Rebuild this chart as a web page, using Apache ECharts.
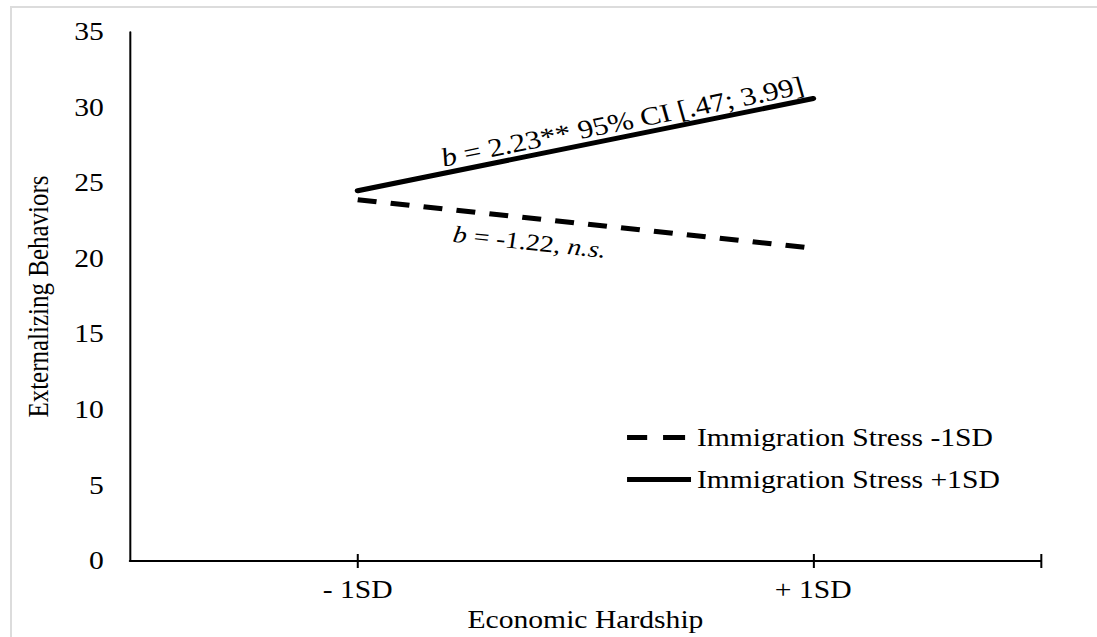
<!DOCTYPE html>
<html>
<head>
<meta charset="utf-8">
<script src="https://cdn.jsdelivr.net/npm/echarts@6/dist/echarts.min.js"></script>
<style>
  html, body { margin: 0; padding: 0; background: #fff; overflow: hidden; }
  #frame { position: absolute; left: 10px; top: 6px; width: 1090px; height: 640px;
           border-left: 2px solid #dcdcdc; border-top: 2px solid #dcdcdc; }
  /* The figure is laid out on a narrower canvas and widened, so the serif
     type comes out broad, as in the printed figure. */
  #chart { position: absolute; left: 0; top: 0; width: 926px; height: 637px;
           transform: scaleX(1.18467); transform-origin: 0 0; }
</style>
</head>
<body>
<div id="frame"></div>
<div id="chart"></div>
<script>
// Economic hardship levels on the x axis
const categories = ['- 1SD', '+ 1SD'];
// Simple slopes: externalizing behaviors at low / high immigration stress
const lowStress = [23.9, 20.7];
const highStress = [24.5, 30.6];
const seriesNames = ['Immigration Stress -1SD', 'Immigration Stress +1SD'];
// Slope annotations
const lowStressNote = '{i|b} = -1.22, {i|n.s.}';
const highStressNote = '{i|b} = 2.23** 95% CI [.47; 3.99]';
// Y axis ticks
const yMin = 0, yMax = 35, yStep = 5;

const FONT = "'Liberation Serif', 'Times New Roman', serif";
const INK = '#000';

const chart = echarts.init(document.getElementById('chart'), null, { renderer: 'svg' });

chart.setOption({
  animation: false,
  backgroundColor: 'transparent',
  textStyle: { fontFamily: FONT, color: INK },
  grid: { left: 109.7, right: 47.3, top: 32, bottom: 76, containLabel: false },
  legend: {
    orient: 'vertical',
    left: 529.3, top: 425,
    padding: 0,
    itemWidth: 54, itemHeight: 5, itemGap: 17,
    textStyle: { fontFamily: FONT, fontSize: 25, color: INK },
    data: [
      // two short dashes, with the icon box kept as wide as the solid one
      { name: seriesNames[0], icon: 'path://M0,0H17V5H0Z M30.4,0H49V5H30.4Z M54,2.5L54,2.5' },
      { name: seriesNames[1], icon: 'path://M0,0H54V5H0Z' }
    ]
  },
  xAxis: [
    {
      type: 'category',
      data: categories,
      boundaryGap: true,
      name: 'Economic Hardship',
      nameLocation: 'middle',
      nameGap: 46,
      nameTextStyle: { fontFamily: FONT, fontSize: 25, color: INK },
      axisLine: { lineStyle: { color: INK, width: 2 } },
      axisTick: { show: false },
      axisLabel: { fontFamily: FONT, fontSize: 25, color: INK, margin: 16 },
      splitLine: { show: false }
    },
    {
      // tick marks crossing the baseline at each category and at the right end
      type: 'value',
      min: 0, max: 4, interval: 1,
      position: 'bottom',
      offset: -7,
      axisLine: { show: false },
      axisLabel: { show: false },
      splitLine: { show: false },
      axisTick: { show: true, length: 14, customValues: [1, 3, 4], lineStyle: { color: INK, width: 1.7 } }
    }
  ],
  yAxis: {
    type: 'value',
    min: yMin, max: yMax, interval: yStep,
    name: 'Externalizing Behaviors',
    nameLocation: 'middle',
    nameGap: 65,
    nameTextStyle: { fontFamily: FONT, fontSize: 25, color: INK },
    axisLine: { show: true, lineStyle: { color: INK, width: 1.7 } },
    axisTick: { show: false },
    axisLabel: { fontFamily: FONT, fontSize: 25, color: INK, margin: 22 },
    splitLine: { show: false }
  },
  series: [
    {
      name: seriesNames[0],
      type: 'line',
      data: lowStress,
      symbol: 'none',
      lineStyle: { color: INK, width: 5, type: [16, 12], cap: 'butt' },
      itemStyle: { color: INK }
    },
    {
      name: seriesNames[1],
      type: 'line',
      data: highStress,
      symbol: 'none',
      lineStyle: { color: INK, width: 5, type: 'solid', cap: 'round' },
      itemStyle: { color: INK }
    }
  ]
});

// Place a slope note along its line, rotated to the line's angle
function noteFor(values, text, t, offset, size) {
  const p0 = chart.convertToPixel({ seriesIndex: 0 }, [0, values[0]]);
  const p1 = chart.convertToPixel({ seriesIndex: 0 }, [1, values[1]]);
  const dx = p1[0] - p0[0], dy = p1[1] - p0[1];
  const len = Math.sqrt(dx * dx + dy * dy);
  const nx = dy / len, ny = -dx / len; // normal on the upper side of the line
  return {
    type: 'text',
    x: p0[0] + dx * t + nx * offset,
    y: p0[1] + dy * t + ny * offset,
    rotation: Math.atan2(-dy, dx),
    style: {
      text: text,
      fontFamily: FONT, fontSize: size, fill: INK,
      align: 'center', verticalAlign: 'middle',
      rich: { i: { fontStyle: 'italic', fontFamily: FONT, fontSize: size, fill: INK } }
    },
    z: 10
  };
}

chart.setOption({
  graphic: [
    noteFor(highStress, highStressNote, 0.59, 15, 26),
    noteFor(lowStress, lowStressNote, 0.385, -24, 23.5)
  ]
});
</script>
</body>
</html>
